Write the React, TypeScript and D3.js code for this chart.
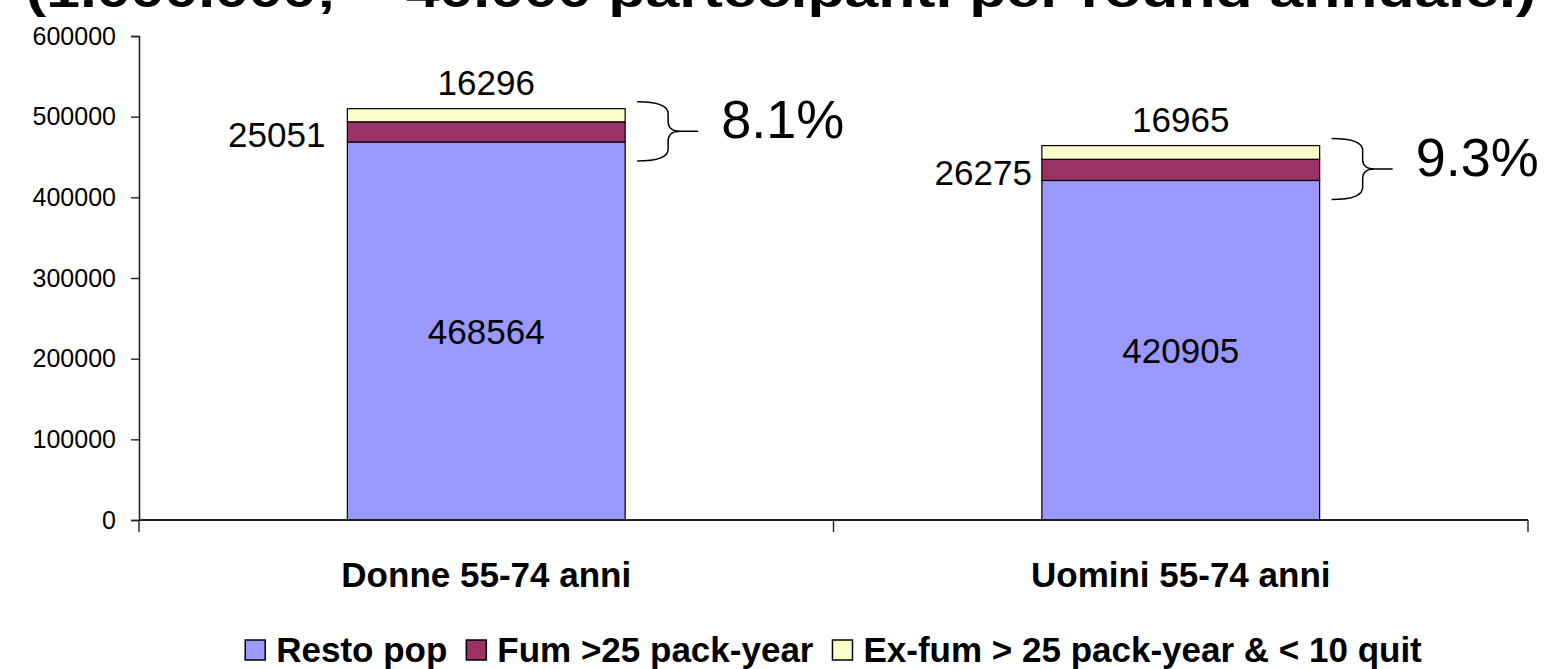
import React, { useEffect, useRef } from 'react';
import * as d3 from 'd3';

// categories and stacked series (bottom -> top)
const categories = ['Donne 55-74 anni', 'Uomini 55-74 anni'];
const restoPop = [468564, 420905];
const fumatori = [25051, 26275];
const exFumatori = [16296, 16965];
const percentages = ['8.1%', '9.3%'];
const seriesNames = ['Resto pop', 'Fum >25 pack-year', 'Ex-fum > 25 pack-year & < 10 quit'];
const seriesColors = ['#9999FF', '#993366', '#FFFFCC'];
const yTicks = [0, 100000, 200000, 300000, 400000, 500000, 600000];
const titleText = '(1.000.000; ~ 40.000 partecipanti per round annuale.)';

const FONT = "'Liberation Sans', Arial, sans-serif";

const App: React.FC = () => {
    const ref = useRef<SVGSVGElement | null>(null);

    useEffect(() => {
        if (!ref.current) return;
        const width = 1558;
        const height = 669;
        const margin = { top: 36, right: 30, bottom: 149, left: 139 };

        const svg = d3.select(ref.current);
        svg.selectAll('*').remove();

        // title, mostly clipped off the top of the picture
        svg.append('text')
            .attr('x', 26)
            .attr('y', 7)
            .attr('font-family', FONT)
            .attr('font-weight', 'bold')
            .attr('font-size', 46)
            .attr('textLength', 1510)
            .attr('lengthAdjust', 'spacingAndGlyphs')
            .text(titleText);

        const x = d3.scaleBand<string>()
            .domain(categories)
            .range([margin.left, width - margin.right])
            .paddingInner(0)
            .paddingOuter(0);

        const y = d3.scaleLinear()
            .domain([0, 600000])
            .range([height - margin.bottom, margin.top]);

        const rows = categories.map((c, i) => ({
            cat: c,
            resto: restoPop[i],
            fum: fumatori[i],
            exfum: exFumatori[i],
        }));
        const stack = d3.stack<any>().keys(['resto', 'fum', 'exfum'])(rows);

        const barW = x.bandwidth() * 0.4;
        const barX = (c: string) => (x(c) as number) + (x.bandwidth() - barW) / 2;

        // bars
        stack.forEach((layer, li) => {
            svg.append('g')
                .selectAll('rect')
                .data(layer)
                .join('rect')
                .attr('x', d => barX(d.data.cat))
                .attr('y', d => y(d[1]))
                .attr('width', barW)
                .attr('height', d => y(d[0]) - y(d[1]))
                .attr('fill', seriesColors[li])
                .attr('stroke', '#000')
                .attr('stroke-width', 1.2);
        });

        // y axis
        const yAxis = svg.append('g')
            .attr('transform', `translate(${margin.left},0)`)
            .call(d3.axisLeft(y).tickValues(yTicks).tickSize(8).tickPadding(15).tickFormat(d3.format('d')));
        yAxis.select('.domain').attr('stroke', '#222').attr('stroke-width', 1.6);
        yAxis.selectAll('.tick line').attr('stroke', '#222').attr('stroke-width', 1.4);
        yAxis.selectAll('.tick text')
            .attr('font-family', FONT)
            .attr('font-size', 25)
            .attr('fill', '#000');

        // x axis with ticks at the band edges
        const y0 = y(0);
        svg.append('line')
            .attr('x1', margin.left).attr('x2', width - margin.right)
            .attr('y1', y0).attr('y2', y0)
            .attr('stroke', '#222').attr('stroke-width', 2);
        const edges = [...categories.map(c => x(c) as number), width - margin.right];
        svg.append('g').selectAll('line').data(edges).join('line')
            .attr('x1', d => d).attr('x2', d => d)
            .attr('y1', y0).attr('y2', y0 + 12)
            .attr('stroke', '#222').attr('stroke-width', 1.4);
        svg.append('g').selectAll('text').data(categories).join('text')
            .attr('x', d => (x(d) as number) + x.bandwidth() / 2)
            .attr('y', 587)
            .attr('text-anchor', 'middle')
            .attr('font-family', FONT)
            .attr('font-weight', 'bold')
            .attr('font-size', 35)
            .text(d => d);

        // value labels
        const sideGap = [22, 10]; // gap between the side label and its bar
        const lbl = svg.append('g').attr('font-family', FONT).attr('font-size', 35);
        rows.forEach((r, i) => {
            const cx = barX(r.cat) + barW / 2;
            const top = y(r.resto + r.fum + r.exfum);
            lbl.append('text')
                .attr('x', cx).attr('y', y(r.resto / 2))
                .attr('text-anchor', 'middle').attr('dominant-baseline', 'central')
                .text(r.resto);
            lbl.append('text')
                .attr('x', barX(r.cat) - sideGap[i]).attr('y', y(r.resto + r.fum / 2) + 3)
                .attr('text-anchor', 'end').attr('dominant-baseline', 'central')
                .text(r.fum);
            lbl.append('text')
                .attr('x', cx).attr('y', top - 14)
                .attr('text-anchor', 'middle')
                .text(r.exfum);

            // curly brace around the two smoker segments
            const x0 = barX(r.cat) + barW + 12;
            const xv = x0 + 31;
            const xt = x0 + 61;
            const bTop = top - 7;
            const bBot = y(r.resto) + 19;
            const mid = (bTop + bBot) / 2;
            const p = d3.path();
            p.moveTo(x0, bTop);
            p.quadraticCurveTo(xv, bTop, xv, bTop + 12);
            p.lineTo(xv, mid - 10);
            p.quadraticCurveTo(xv, mid, xv + 12, mid);
            p.lineTo(xt, mid);
            p.moveTo(xv + 12, mid);
            p.quadraticCurveTo(xv, mid, xv, mid + 10);
            p.lineTo(xv, bBot - 12);
            p.quadraticCurveTo(xv, bBot, x0, bBot);
            svg.append('path')
                .attr('d', p.toString())
                .attr('fill', 'none')
                .attr('stroke', '#000')
                .attr('stroke-width', 1.5);
            svg.append('text')
                .attr('x', xt + 23).attr('y', mid + 7)
                .attr('font-family', FONT)
                .attr('font-size', 54)
                .text(percentages[i]);
        });

        // legend, centred under the plot
        const legend = svg.append('g');
        const items = legend.selectAll('g').data(seriesNames).join('g');
        items.append('rect')
            .attr('width', 20).attr('height', 20)
            .attr('y', 640)
            .attr('fill', (d, i) => seriesColors[i])
            .attr('stroke', '#000').attr('stroke-width', 1.5);
        items.append('text')
            .attr('x', 31).attr('y', 662)
            .attr('font-family', FONT)
            .attr('font-weight', 'bold')
            .attr('font-size', 35)
            .text(d => d);
        let offset = 0;
        const positions: number[] = [];
        items.each(function () {
            const t = d3.select(this).select('text').node() as SVGTextElement;
            positions.push(offset);
            offset += 31 + t.getComputedTextLength() + 19;
        });
        offset -= 19;
        const start = (margin.left + width - margin.right) / 2 - offset / 2;
        items.attr('transform', (d, i) => `translate(${start + positions[i]},0)`);
    }, []);

    return (
        <svg
            ref={ref}
            width={1558}
            height={669}
            style={{ position: 'absolute', left: 0, top: 0, background: '#fff' }}
        />
    );
};

export default App;
